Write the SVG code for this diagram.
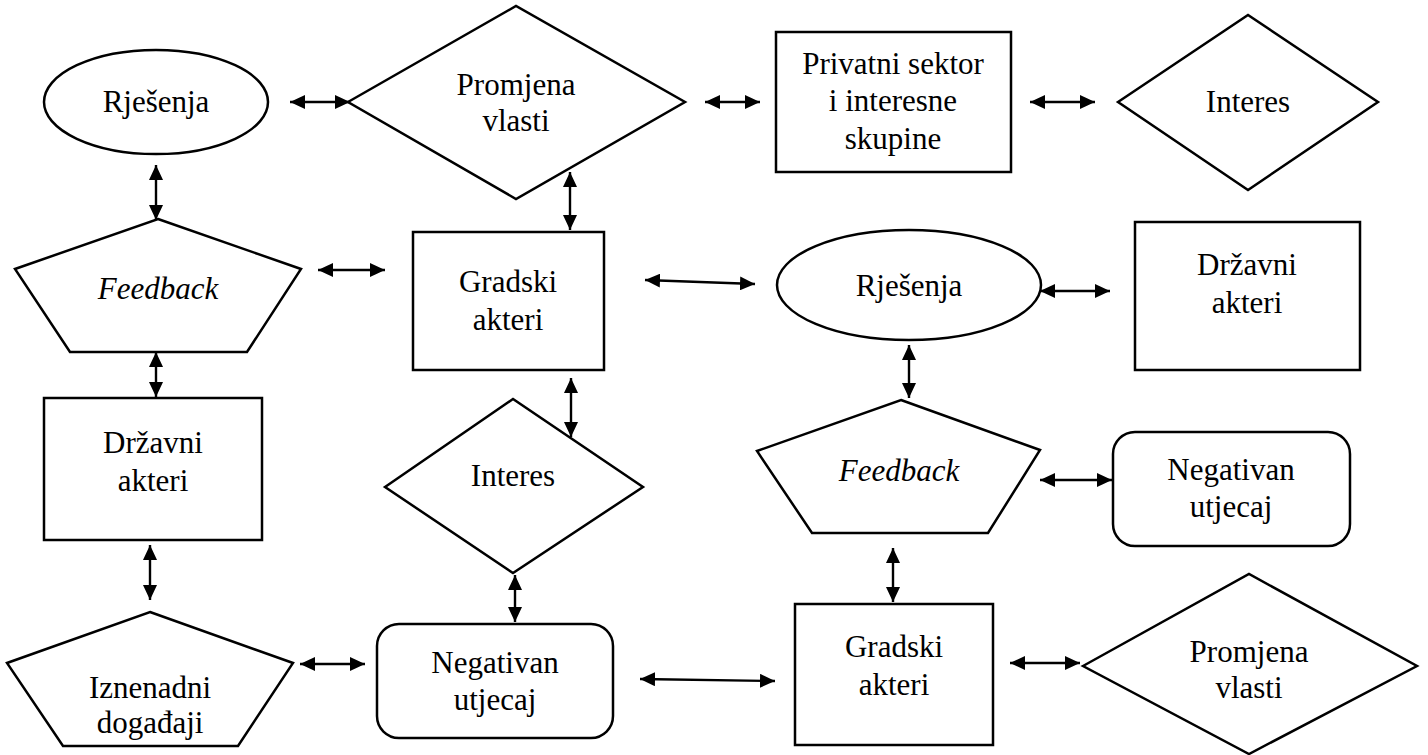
<svg xmlns="http://www.w3.org/2000/svg" width="1428" height="755" viewBox="0 0 1428 755">
<defs>
<marker id="ah" viewBox="0 0 15 14" refX="15" refY="7" markerWidth="15" markerHeight="14" markerUnits="userSpaceOnUse" orient="auto-start-reverse">
<path d="M0,0 L15,7 L0,14 Z" fill="#000"/>
</marker>
</defs>
<style>
.s{fill:#fff;stroke:#000;stroke-width:2.5}
.t{font-family:Liberation Serif,serif;font-size:31px;fill:#000;text-anchor:middle}
.i{font-style:italic}
.c line{stroke:#000;stroke-width:2.4;marker-start:url(#ah);marker-end:url(#ah)}
</style>
<rect width="1428" height="755" fill="#fff"/>
<g id="n1"><ellipse class="s" cx="156" cy="102" rx="112" ry="52"/><text class="t" x="156" y="112">Rješenja</text></g>
<g id="n2"><polygon class="s" points="348,102 516,6 685,102 516,199"/><text class="t" x="516" y="95">Promjena</text><text class="t" x="516" y="131">vlasti</text></g>
<g id="n3"><rect class="s" x="776" y="32" width="235" height="140"/><text class="t" x="893" y="74">Privatni sektor</text><text class="t" x="893" y="111">i interesne</text><text class="t" x="893" y="149">skupine</text></g>
<g id="n4"><polygon class="s" points="1118,102 1248,15 1378,102 1248,190"/><text class="t" x="1248" y="112">Interes</text></g>
<g id="n5"><polygon class="s" points="158,219 301,269 247,352 70,352 15,269"/><text class="t i" x="158" y="299">Feedback</text></g>
<g id="n6"><rect class="s" x="413" y="232" width="191" height="138"/><text class="t" x="508" y="292">Gradski</text><text class="t" x="508" y="330">akteri</text></g>
<g id="n7"><ellipse class="s" cx="909" cy="285" rx="132" ry="55"/><text class="t" x="909" y="296">Rješenja</text></g>
<g id="n8"><rect class="s" x="1135" y="222" width="225" height="148"/><text class="t" x="1247" y="275">Državni</text><text class="t" x="1247" y="313">akteri</text></g>
<g id="n9"><rect class="s" x="44" y="398" width="218" height="142"/><text class="t" x="153" y="453">Državni</text><text class="t" x="153" y="491">akteri</text></g>
<g id="n10"><polygon class="s" points="385,487 513,399 643,487 513,573"/><text class="t" x="513" y="486">Interes</text></g>
<g id="n11"><polygon class="s" points="901,400 1040,450 988,533 812,533 757,451"/><text class="t i" x="899" y="481">Feedback</text></g>
<g id="n12"><rect class="s" x="1113" y="432" width="237" height="114" rx="22"/><text class="t" x="1231" y="480">Negativan</text><text class="t" x="1231" y="517">utjecaj</text></g>
<g id="n13"><polygon class="s" points="150,612 293,663 238,746 63,746 7,663"/><text class="t" x="150" y="698">Iznenadni</text><text class="t" x="150" y="733">događaji</text></g>
<g id="n14"><rect class="s" x="377" y="624" width="236" height="114" rx="22"/><text class="t" x="495" y="673">Negativan</text><text class="t" x="495" y="710">utjecaj</text></g>
<g id="n15"><rect class="s" x="795" y="604" width="198" height="141"/><text class="t" x="894" y="657">Gradski</text><text class="t" x="894" y="695">akteri</text></g>
<g id="n16"><polygon class="s" points="1083,666 1249,574 1417,666 1249,754"/><text class="t" x="1249" y="662">Promjena</text><text class="t" x="1249" y="698">vlasti</text></g>
<g id="connectors" class="c">
<line x1="290" y1="102" x2="350" y2="102"/>
<line x1="705" y1="102" x2="760" y2="102"/>
<line x1="1030" y1="102" x2="1095" y2="102"/>
<line x1="156" y1="165" x2="156" y2="220"/>
<line x1="570" y1="172" x2="570" y2="230"/>
<line x1="318" y1="270" x2="385" y2="270"/>
<line x1="645" y1="280" x2="755" y2="284"/>
<line x1="1040" y1="291" x2="1110" y2="291"/>
<line x1="156" y1="352" x2="156" y2="397"/>
<line x1="571" y1="378" x2="571" y2="437"/>
<line x1="909" y1="345" x2="909" y2="398"/>
<line x1="1040" y1="480" x2="1112" y2="480"/>
<line x1="150" y1="545" x2="150" y2="600"/>
<line x1="515" y1="575" x2="515" y2="622"/>
<line x1="300" y1="664" x2="365" y2="664"/>
<line x1="640" y1="679" x2="775" y2="681"/>
<line x1="893" y1="548" x2="893" y2="602"/>
<line x1="1010" y1="663" x2="1080" y2="663"/>
</g>
</svg>
